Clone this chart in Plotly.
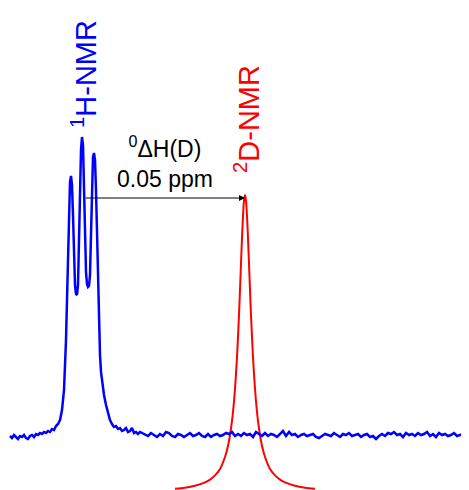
import plotly.graph_objects as go

# ---- data ----
# 1H-NMR spectrum: shift (arbitrary units) and intensity above its own baseline
h_shift = [10, 12, 14, 16, 18, 20, 22, 24, 26, 28, 30, 32, 34, 36, 38, 40, 42, 44, 46, 48,
           50, 52, 54, 56, 58, 60, 62, 64, 65, 66, 67, 68, 69, 70, 71, 72, 73, 74, 75, 76,
           77, 78, 79, 80, 81, 82, 83, 84, 85, 86, 87, 88, 89, 90, 91, 92, 93, 94, 95, 96,
           97, 98, 99, 100, 101, 102, 104, 106, 108, 110, 112, 114, 116, 118, 120, 122, 124,
           126, 128, 130, 132, 134, 136, 138, 140, 142,
           145, 148, 151, 154, 157, 160, 163, 166, 169, 172, 175, 178, 181, 184, 187, 190,
           193, 196, 199, 202, 205, 208, 211, 214, 217, 220, 223, 226, 229, 232, 235, 238,
           241, 244, 247, 250, 253, 256, 259, 262, 265, 268, 271, 274, 277, 280, 283, 286,
           289, 292, 295, 298, 301, 304, 307, 310, 313, 316, 319, 322, 325, 328, 331, 334,
           337, 340, 343, 346, 349, 352, 355, 358, 361, 364, 367, 370, 373, 376, 379, 382,
           385, 388, 391, 394, 397, 400, 403, 406, 409, 412, 415, 418, 421, 424, 427, 430,
           433, 436, 439, 442, 445, 448, 451, 454, 457, 460, 463, 466, 469]
h_intensity = [-1, -3, 0, -2, -4, -1, -2, 0, -3, -4, -1, 0, -2, 1, 0, 2, 1, 3, 2, 4,
               3, 6, 5, 9, 11, 15, 25, 45, 65, 95, 135, 175, 220, 253, 259, 250, 220, 180, 150, 141,
               140, 150, 185, 240, 285, 298, 290, 245, 195, 163, 151, 148, 149, 160, 200, 250, 278, 282, 275, 245,
               195, 145, 105, 80, 63, 53, 40, 30, 21, 15, 11, 8, 9, 6, 7, 4, 5,
               7, 3, 4, 7, 2, 3, 1, 3, 2,
               1, -1, 2, 0, -2, 1, -1, 3, 2, -1, -2, 1, 0, -2, 0, 2,
               -1, 0, 2, -1, -2, 1, -2, 0, 1, -1, 0, 2, 1, 3, -1, 1,
               -1, 2, 0, 1, -2, 3, 1, -1, 2, -1, 1, 0, -2, 1, 4, -1,
               3, 0, 1, -2, 0, 1, -1, 0, 1, -2, -3, -1, 1, 0, -1, 2,
               0, -2, 1, 0, 2, -1, 0, 1, -2, 0, 1, -2, -1, -4, -1, 1,
               -1, 2, 1, 3, 0, 1, -2, 2, 0, 1, -1, 2, 0, 1, 3, -1,
               1, -2, 2, 0, 1, -1, 0, 2, -1, 0, 1, -1, 0]

# 2D-NMR spectrum
d_shift = [175, 185, 195, 205, 210, 215, 220, 225, 227, 229, 231, 233, 235, 237, 238, 239,
           240, 241, 242, 243, 244, 245, 246, 247, 248, 249, 250, 251, 252, 253, 255, 257,
           259, 261, 263, 265, 270, 275, 280, 285, 295, 305, 315]
d_intensity = [3.2, 4.3, 6.2, 9.6, 12.4, 16.6, 23, 35, 42, 51, 63.5, 80, 103, 135, 155, 177,
               202, 228.5, 254, 276, 291.5, 297, 291.5, 276, 254, 228.5, 202, 177, 155, 135, 103, 80,
               63.5, 51, 42, 35, 23, 16.6, 12.4, 9.6, 6.2, 4.3, 3.2]

h_center = 84
d_center = 245

h_label = "<sup>1</sup>H-NMR"
d_label = "<sup>2</sup>D-NMR"
shift_label = "<sup>0</sup>ΔH(D)<br>0.05 ppm"

# ---- layout / style ----
H_OFFSET = 55
D_OFFSET = -2
ARROW_LEVEL = 292
FONT = "Arial, Liberation Sans, sans-serif"

fig = go.Figure()
fig.add_trace(go.Scatter(x=d_shift, y=[v + D_OFFSET for v in d_intensity], mode="lines",
                         line=dict(color="#ff0000", width=2, shape="spline", smoothing=0.6),
                         hoverinfo="skip"))
fig.add_trace(go.Scatter(x=h_shift, y=[v + H_OFFSET for v in h_intensity], mode="lines",
                         line=dict(color="#0000ff", width=2.5),
                         hoverinfo="skip"))

fig.add_annotation(x=d_center, y=ARROW_LEVEL, ax=h_center, ay=ARROW_LEVEL,
                   xref="x", yref="y", axref="x", ayref="y",
                   showarrow=True, arrowhead=2, arrowsize=1.2, arrowwidth=1,
                   arrowcolor="#000000", text="")
fig.add_annotation(x=165, y=296, xref="x", yref="y", text=shift_label,
                   showarrow=False, xanchor="center", yanchor="bottom",
                   font=dict(family=FONT, size=23, color="#000000"), align="center")
fig.add_annotation(x=84, y=416, xref="x", yref="y", text=h_label, textangle=-90,
                   showarrow=False, xanchor="center", yanchor="middle",
                   font=dict(family=FONT, size=29, color="#0000ff"))
fig.add_annotation(x=247, y=371, xref="x", yref="y", text=d_label, textangle=-90,
                   showarrow=False, xanchor="center", yanchor="middle",
                   font=dict(family=FONT, size=29, color="#ff0000"))

fig.update_layout(
    width=469, height=490,
    margin=dict(l=0, r=0, t=0, b=0),
    paper_bgcolor="white", plot_bgcolor="white",
    showlegend=False,
    xaxis=dict(range=[8, 477], visible=False, fixedrange=True),
    yaxis=dict(range=[-8, 482], visible=False, fixedrange=True),
)

fig.write_html("out.html")
